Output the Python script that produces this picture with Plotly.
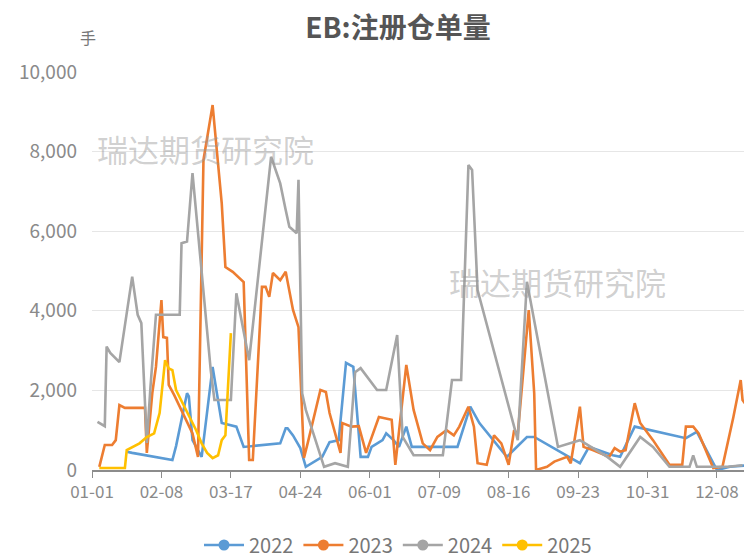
import plotly.graph_objects as go
import pandas as pd

# ---------------- data ----------------
all_days = pd.date_range("2024-01-01", "2024-12-31").strftime("%m-%d").tolist()
tick_labels = ["01-01", "02-08", "03-17", "04-24", "06-01", "07-09", "08-16", "09-23", "10-31", "12-08"]
y_ticks = [0, 2000, 4000, 6000, 8000, 10000]

dates_2022 = ["01-20", "01-23", "02-14", "02-16", "02-22", "02-23", "02-25", "03-01", "03-07", "03-12",
              "03-20", "03-24", "04-13", "04-16", "04-17", "04-20", "04-24", "04-27", "05-06", "05-10",
              "05-15", "05-19", "05-23", "05-27", "05-31", "06-02", "06-08", "06-10", "06-14", "06-17",
              "06-21", "06-24", "07-19", "07-26", "07-31", "08-15", "08-26", "08-30", "09-24", "09-29",
              "10-12", "10-16", "10-24", "11-21", "11-27", "12-08", "12-15", "12-25"]
values_2022 = [460, 430, 250, 600, 1930, 1850, 750, 330, 2590, 1180,
               1090, 580, 670, 1050, 1050, 870, 550, 80, 330, 700,
               750, 2690, 2590, 330, 330, 580, 750, 920, 750, 580,
               1090, 580, 580, 1590, 1180, 330, 830, 830, 170, 580,
               370, 330, 1090, 800, 960, 0, 80, 120]

dates_2023 = ["01-05", "01-08", "01-12", "01-14", "01-16", "01-19", "01-30", "01-31", "02-03", "02-05",
              "02-08", "02-09", "02-11", "02-12", "02-15", "02-25", "02-28", "03-02", "03-07", "03-09",
              "03-12", "03-14", "03-18", "03-24", "03-27", "03-29", "04-03", "04-05", "04-07", "04-09",
              "04-13", "04-16", "04-20", "04-23", "04-26", "04-28", "05-05", "05-08", "05-10", "05-16",
              "05-17", "05-22", "05-26", "05-30", "06-06", "06-13", "06-15", "06-21", "06-25", "06-30",
              "07-04", "07-08", "07-13", "07-17", "07-20", "07-25", "07-28", "07-30", "08-04", "08-08",
              "08-12", "08-16", "08-19", "08-21", "08-27", "08-30", "08-31", "09-06", "09-10", "09-17",
              "09-19", "09-24", "09-26", "10-01", "10-10", "10-13", "10-16", "10-19", "10-24", "10-27",
              "11-03", "11-12", "11-19", "11-21", "11-25", "11-28", "12-06", "12-11", "12-17", "12-21",
              "12-22", "12-26"]
values_2023 = [80, 630, 630, 750, 1630, 1560, 1560, 430, 1930, 2590,
               4270, 3340, 3320, 2140, 1880, 920, 330, 7790, 9170, 8120,
               6700, 5100, 4980, 4720, 250, 250, 4600, 4600, 4350, 4950,
               4770, 4980, 4020, 3590, 300, 670, 2010, 1960, 1430, 430,
               1180, 1090, 1100, 430, 1330, 1260, 130, 2640, 1510, 670,
               500, 830, 1000, 870, 1090, 1590, 1090, 170, 130, 870,
               670, 130, 1000, 900, 4020, 1930, 0, 80, 210, 330,
               170, 1590, 580, 500, 330, 550, 460, 500, 1680, 1180,
               750, 130, 130, 1090, 1090, 920, 50, 80, 1330, 2260,
               1760, 1500]

dates_2024 = ["01-04", "01-08", "01-09", "01-11", "01-16", "01-23", "01-26", "01-28", "01-31", "02-02",
              "02-05", "02-18", "02-19", "02-22", "02-25", "03-06", "03-08", "03-17", "03-20", "03-27",
              "04-08", "04-13", "04-16", "04-18", "04-22", "04-23", "04-25", "04-27", "05-07", "05-13",
              "05-20", "05-24", "05-27", "06-05", "06-10", "06-16", "06-19", "06-25", "07-11", "07-16",
              "07-21", "07-25", "07-27", "07-30", "08-19", "08-21", "08-26", "09-12", "09-24", "10-09",
              "10-16", "10-27", "11-03", "11-12", "11-23", "11-25", "11-27", "12-14", "12-22"]
values_2024 = [1210, 1100, 3100, 2940, 2710, 4860, 3900, 3690, 680, 2090,
               3900, 3900, 5700, 5740, 7460, 2500, 1760, 1760, 4440, 2760,
               7870, 7200, 6530, 6110, 5950, 7290, 1930, 1510, 80, 170,
               80, 2460, 2560, 2010, 2010, 3390, 830, 370, 370, 2260,
               2260, 7660, 7540, 4520, 1090, 750, 4730, 580, 750, 330,
               80, 830, 580, 80, 80, 370, 80, 80, 120]

dates_2025 = ["01-05", "01-19", "01-20", "01-27", "01-31", "02-04", "02-07", "02-10", "02-12", "02-14",
              "02-16", "02-24", "02-27", "03-01", "03-04", "03-07", "03-10", "03-12", "03-14", "03-17"]
values_2025 = [50, 50, 500, 670, 830, 920, 1430, 2760, 2550, 2510,
               2010, 1260, 1000, 670, 430, 300, 370, 750, 870, 3440]

series_names = ["2022", "2023", "2024", "2025"]
series_colors = ["#5B9BD5", "#ED7D31", "#A5A5A5", "#FFC000"]
series_dates = [dates_2022, dates_2023, dates_2024, dates_2025]
series_values = [values_2022, values_2023, values_2024, values_2025]

title_text = "EB:注册仓单量"
unit_text = "手"
watermark = "瑞达期货研究院"

# ---------------- figure ----------------
FONT = "Noto Sans CJK SC, Noto Sans, sans-serif"
fig = go.Figure()

for name, color, d, v in zip(series_names, series_colors, series_dates, series_values):
    fig.add_trace(go.Scatter(x=d, y=v, mode="lines", name=name, showlegend=False,
                             line=dict(color=color, width=2.6), hoverinfo="x+y+name"))
for name, color in zip(series_names, series_colors):
    fig.add_trace(go.Scatter(x=[None], y=[None], mode="lines+markers", name=name,
                             line=dict(color=color, width=2.6),
                             marker=dict(color=color, size=11)))

fig.update_layout(
    width=744, height=559,
    margin=dict(l=92, r=0, t=72, b=89, autoexpand=False),
    paper_bgcolor="white", plot_bgcolor="white",
    font=dict(family=FONT, color="#8a8a8a"),
    title=dict(text="<b>" + title_text + "</b>", x=398 / 744, xref="container", xanchor="center",
               y=1 - 28 / 559, yref="container", yanchor="middle",
               font=dict(size=28, color="#555555", family=FONT)),
    showlegend=True,
    legend=dict(orientation="h", x=398 / 744, xanchor="center", xref="container",
                y=1 - 545 / 559, yanchor="middle", yref="container",
                font=dict(size=20, color="#777777"), itemwidth=40, tracegroupgap=0),
    xaxis=dict(type="category", categoryorder="array", categoryarray=all_days,
               range=[0, 356.8], tickmode="array", tickvals=tick_labels, ticktext=tick_labels,
               showgrid=False, showline=True, linecolor="#8c8c8c", linewidth=1.5,
               ticks="outside", ticklen=6, tickcolor="#8c8c8c",
               tickfont=dict(size=17, color="#8a8a8a"), zeroline=False),
    yaxis=dict(range=[0, 10000], tickvals=y_ticks, tickformat=",",
               showgrid=True, gridcolor="#e6e6e6", gridwidth=1, zeroline=False,
               showline=False, ticks="", ticklabelstandoff=14,
               tickfont=dict(size=19, color="#8a8a8a")),
)

fig.add_annotation(text=unit_text, xref="paper", yref="paper", x=(88 - 92) / 652, y=(470 - 37) / 398,
                   xanchor="center", yanchor="middle",
                   showarrow=False, font=dict(size=16, color="#777777", family=FONT))
fig.add_annotation(text=watermark, xref="paper", yref="paper", x=(205 - 92) / 652, y=(470 - 148) / 398,
                   xanchor="center", yanchor="middle",
                   showarrow=False, font=dict(size=31, color="rgba(150,150,150,0.45)", family=FONT))
fig.add_annotation(text=watermark, xref="paper", yref="paper", x=(557 - 92) / 652, y=(470 - 281) / 398,
                   xanchor="center", yanchor="middle",
                   showarrow=False, font=dict(size=31, color="rgba(150,150,150,0.45)", family=FONT))

fig.write_html("out.html", config={"displayModeBar": False},
               post_script="document.body.style.margin='0';document.body.style.padding='0';")
